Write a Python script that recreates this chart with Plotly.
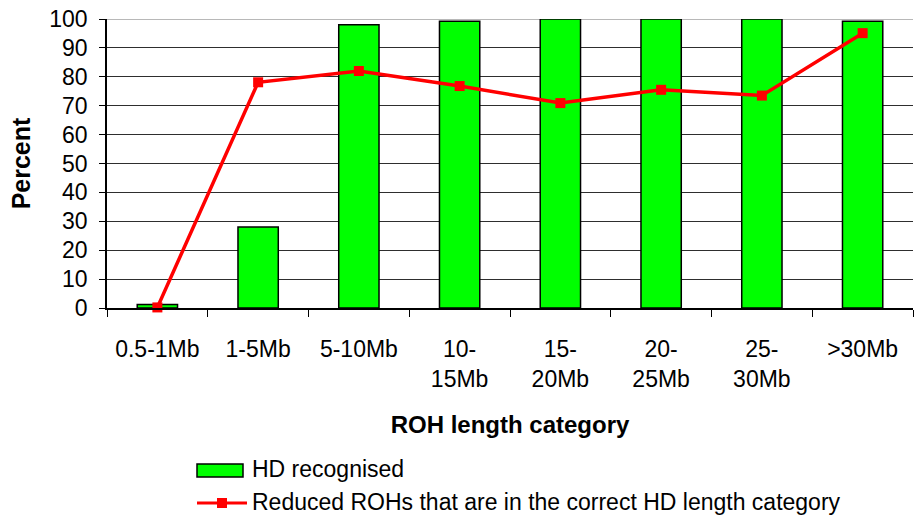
import plotly.graph_objects as go

# ROH length categories and the two percentage series
categories = ["0.5-1Mb", "1-5Mb", "5-10Mb", "10-<br>15Mb", "15-<br>20Mb",
              "20-<br>25Mb", "25-<br>30Mb", ">30Mb"]
hd_recognised = [1.2, 28, 98, 99.2, 100, 100, 100, 99.2]
reduced_correct = [0.2, 78.1, 82.0, 76.8, 70.9, 75.5, 73.5, 95.1]
y_ticks = list(range(0, 101, 10))

W, H = 915, 516
L, R, T, B = 107, 913, 19, 308
FONT = "Liberation Sans"


def px(x):
    """Pixel x -> paper x."""
    return (x - L) / (R - L)


def py(y):
    """Pixel y -> paper y."""
    return (B - y) / (B - T)


fig = go.Figure()

fig.add_trace(go.Bar(
    x=categories, y=hd_recognised, name="HD recognised",
    width=0.4,
    marker=dict(color="#00ff00", line=dict(color="#000000", width=1.5)),
    showlegend=False,
))

fig.add_trace(go.Scatter(
    x=categories, y=reduced_correct,
    name="Reduced ROHs that are in the correct HD length category",
    mode="lines+markers",
    line=dict(color="#ff0000", width=3.5),
    marker=dict(symbol="square", size=10, color="#ff0000"),
    showlegend=False, cliponaxis=False,
))

shapes = [
    # light frame line at the top of the plot area
    dict(type="line", xref="paper", yref="y", x0=0, x1=1, y0=100, y1=100,
         line=dict(color="#b8b8b8", width=2), layer="below"),
    # legend key: bar
    dict(type="rect", xref="paper", yref="paper",
         x0=px(197), x1=px(243), y0=py(477), y1=py(464),
         fillcolor="#00ff00", line=dict(color="#000000", width=1.5)),
    # legend key: line with marker
    dict(type="line", xref="paper", yref="paper",
         x0=px(197), x1=px(247), y0=py(503), y1=py(503),
         line=dict(color="#ff0000", width=3)),
    dict(type="rect", xref="paper", yref="paper",
         x0=px(217), x1=px(227), y0=py(508), y1=py(498),
         fillcolor="#ff0000", line=dict(width=0)),
]

annotations = [
    dict(text="HD recognised", xref="paper", yref="paper",
         x=px(250), y=py(469), xanchor="left", yanchor="middle",
         showarrow=False, font=dict(family=FONT, size=23, color="#000000")),
    dict(text="Reduced ROHs that are in the correct HD length category",
         xref="paper", yref="paper",
         x=px(250), y=py(502), xanchor="left", yanchor="middle",
         showarrow=False, font=dict(family=FONT, size=23, color="#000000")),
]

fig.update_layout(
    width=W, height=H,
    margin=dict(l=L, r=W - R, t=T, b=H - B, autoexpand=False),
    paper_bgcolor="#ffffff", plot_bgcolor="#ffffff",
    font=dict(family=FONT, size=23, color="#000000"),
    bargap=0.6,
    shapes=shapes,
    annotations=annotations,
)

fig.update_xaxes(
    showline=True, linecolor="#000000", linewidth=1.5,
    ticks="outside", tickson="boundaries", ticklen=7, tickcolor="#000000",
    tickwidth=1, showgrid=False, ticklabelstandoff=20,
    tickfont=dict(family=FONT, size=23),
    title=dict(text="<b>ROH length category</b>", standoff=25,
               font=dict(family=FONT, size=24)),
)

fig.update_yaxes(
    range=[0, 100], tickvals=y_ticks,
    showline=True, linecolor="#000000", linewidth=1.5,
    ticks="outside", ticklen=6, tickcolor="#000000", tickwidth=1,
    showgrid=True, gridcolor="#2e2e2e", gridwidth=1,
    zeroline=False, ticklabelstandoff=7,
    tickfont=dict(family=FONT, size=23),
    title=dict(text="<b>Percent</b>", standoff=12,
               font=dict(family=FONT, size=25)),
)

fig.write_html("out.html")
